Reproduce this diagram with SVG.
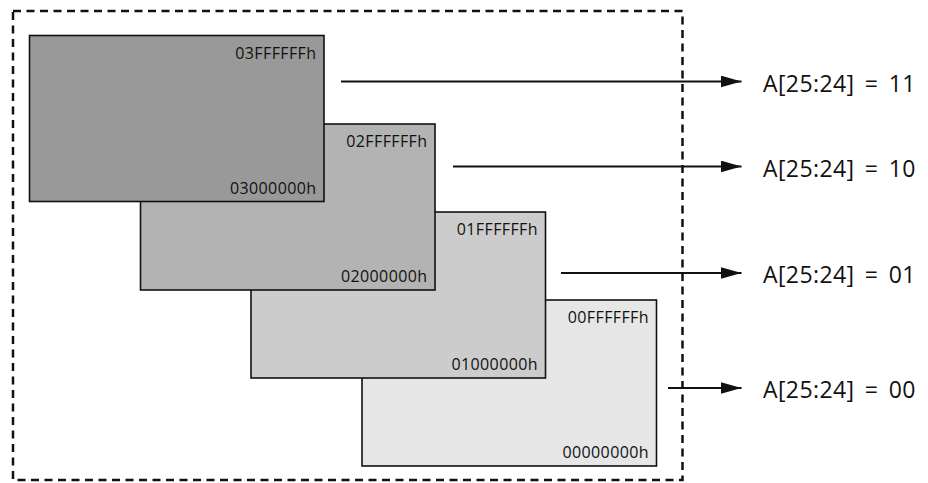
<svg xmlns="http://www.w3.org/2000/svg" width="928" height="483" viewBox="0 0 928 483">
<defs>
<style>
.blk{stroke:#111111;stroke-width:1.6}
.addr{font-family:"Open Sans","Liberation Sans",sans-serif;font-size:16px;fill:#111111;text-anchor:end;letter-spacing:0.4px}
.lbl{font-family:"Open Sans","Liberation Sans",sans-serif;font-size:23px;fill:#111111;letter-spacing:0.4px;word-spacing:4px}
.conn{stroke:#111111;stroke-width:2;fill:none;marker-end:url(#ah)}
</style>
<marker id="ah" viewBox="0 0 21 12" refX="21" refY="6" markerWidth="21" markerHeight="12" markerUnits="userSpaceOnUse" orient="auto">
<path d="M0,0 L21,6 L0,12 Z" fill="#111111"/>
</marker>
</defs>
<rect id="frame" x="13" y="11" width="669.5" height="469" fill="none" stroke="#111111" stroke-width="2.5" stroke-dasharray="8 5.5"/>
<g id="bank0">
<rect class="blk" x="362" y="300" width="294.5" height="166" fill="#e6e6e6"/>
<text class="addr" x="649" y="323">00FFFFFFh</text>
<text class="addr" x="649" y="458">00000000h</text>
</g>
<g id="bank1">
<rect class="blk" x="251" y="212" width="294.5" height="166" fill="#cccccc"/>
<text class="addr" x="538" y="235">01FFFFFFh</text>
<text class="addr" x="538" y="370">01000000h</text>
</g>
<g id="bank2">
<rect class="blk" x="140.5" y="124" width="294.5" height="166" fill="#b3b3b3"/>
<text class="addr" x="427.5" y="147">02FFFFFFh</text>
<text class="addr" x="427.5" y="282">02000000h</text>
</g>
<g id="bank3">
<rect class="blk" x="29.5" y="35.5" width="294.5" height="166" fill="#999999"/>
<text class="addr" x="316.5" y="58.5">03FFFFFFh</text>
<text class="addr" x="316.5" y="193.5">03000000h</text>
</g>
<g id="connectors">
<line class="conn" x1="341" y1="81.5" x2="741.5" y2="81.5"/>
<line class="conn" x1="453" y1="166.5" x2="741.5" y2="166.5"/>
<line class="conn" x1="561" y1="273" x2="741.5" y2="273"/>
<line class="conn" x1="668" y1="388" x2="741.5" y2="388"/>
</g>
<g id="labels">
<text class="lbl" x="763" y="91.5">A[25:24] = 11</text>
<text class="lbl" x="763" y="176.5">A[25:24] = 10</text>
<text class="lbl" x="763" y="283">A[25:24] = 01</text>
<text class="lbl" x="763" y="398">A[25:24] = 00</text>
</g>
</svg>
